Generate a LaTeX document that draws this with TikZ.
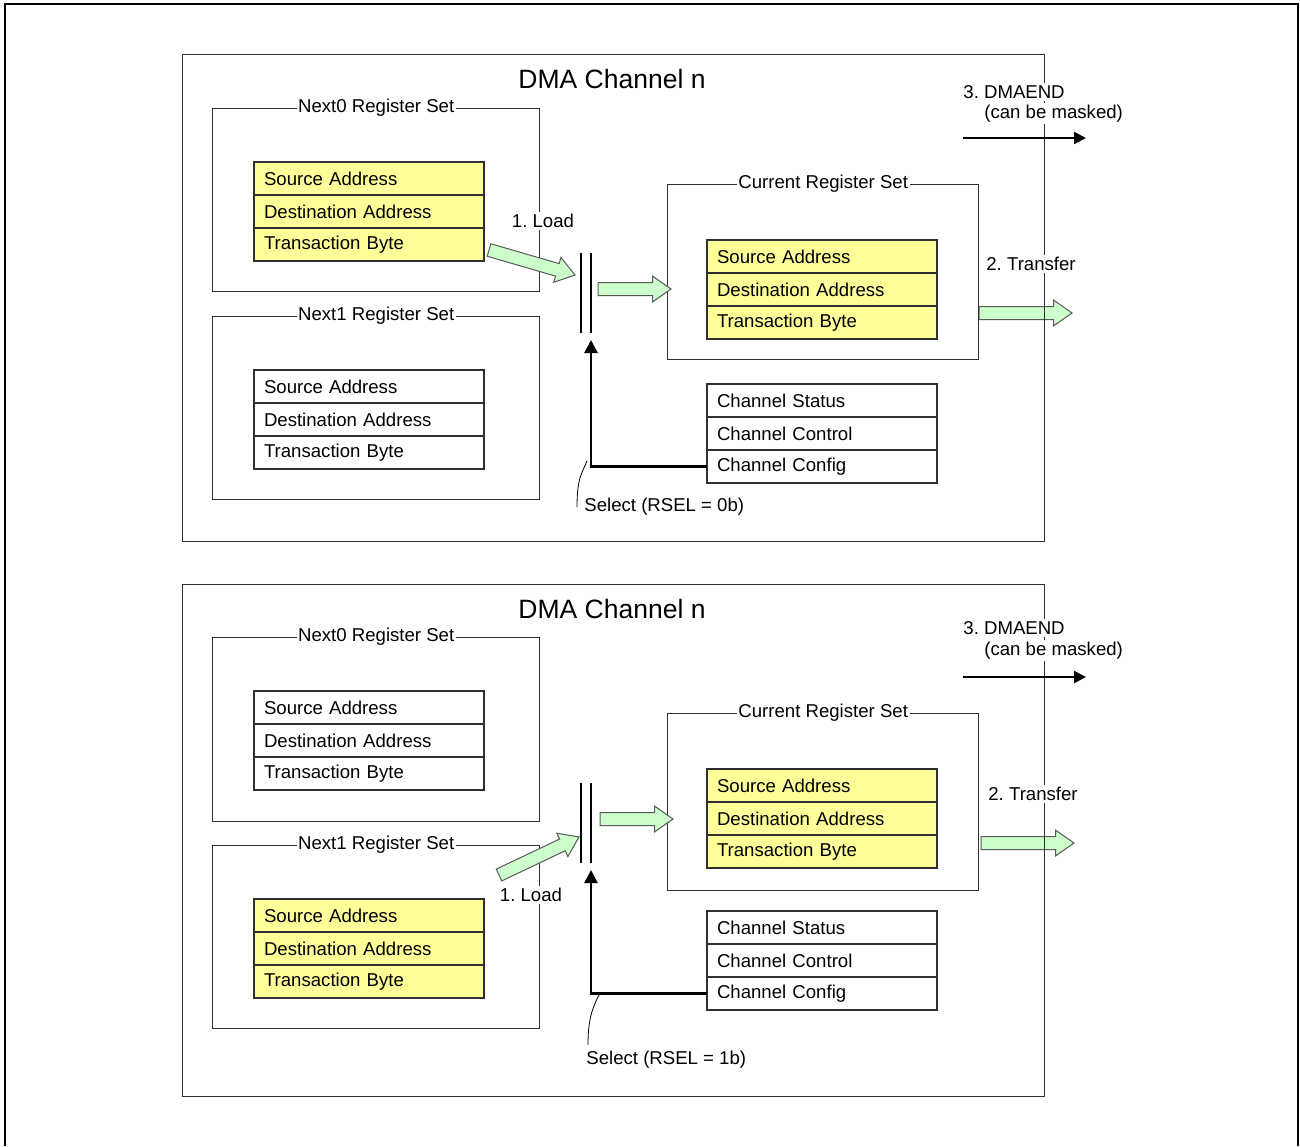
\documentclass[tikz,border=0pt]{standalone}
\usepackage{fontspec}
\setmainfont{Liberation Sans}
\usetikzlibrary{arrows.meta,positioning,calc,shapes.arrows,backgrounds}
\definecolor{regfill}{HTML}{FFFF99}
\definecolor{flowfill}{HTML}{CCFFCC}
\definecolor{edge}{HTML}{303030}
\frenchspacing

\begin{document}
\begin{tikzpicture}[x=0.5pt, y=-0.5pt,
  font=\fontsize{9.3}{11}\selectfont,
  chanbox/.style={draw=edge, line width=0.7pt, anchor=north west, inner sep=0pt, minimum width=431pt},
  setbox/.style={draw=edge, line width=0.7pt, anchor=north west, inner sep=0pt, label={[fill=white, inner sep=0.8pt, anchor=center]north:#1}},
  reg/.style={draw=edge, line width=0.6pt, anchor=north west, outer sep=0pt, minimum height=16.5pt, text width=105pt, inner xsep=5pt, inner ysep=0pt, align=left},
  hot/.style={reg, fill=regfill},
  flow/.style={single arrow, draw=black!65, fill=flowfill, line width=0.5pt, single arrow head extend=3.2pt, single arrow tip angle=70, inner xsep=0pt, inner ysep=3pt, outer sep=0pt, text height=0pt, text depth=0pt, minimum height=#1, pos=0, sloped, anchor=tail},
  lbl/.style={fill=white, inner sep=1pt},
  sel/.style={line width=1.3pt, -{Triangle[length=6.5pt, width=6.5pt]}},
  irq/.style={line width=1.1pt, -{Triangle[length=6pt, width=6pt]}},
  heading/.style={font=\fontsize{13.25}{15}\selectfont},
  lead/.style={line width=0.4pt}
]
  \useasboundingbox (0,0) rectangle (1300,1146);
  \draw[line width=1.2pt] (5,1146) -- (5,4) -- (1298,4) -- (1298,1146);

  % ---- RSEL = 0b ----
  \begin{scope}[on background layer]
    \path (979,313) -- (1072,313) node[flow=46.5pt] (a-xfer) {};
  \end{scope}
  \node[chanbox, minimum height=243.5pt] (a-dma) at (182,54) {};
  \node[heading] (a-title) at (612,79) {DMA Channel n};

  \node[setbox=Next0 Register Set, minimum width=163.5pt, minimum height=91.5pt] (a-next0) at (212,108) {};
  \node[hot] (a-n0src) at (254,162) {Source Address};
  \node[hot, below=0pt of a-n0src] (a-n0dst) {Destination Address};
  \node[hot, below=0pt of a-n0dst] (a-n0tb) {Transaction Byte};

  \node[setbox=Next1 Register Set, minimum width=163.5pt, minimum height=91.5pt] (a-next1) at (212,316) {};
  \node[reg] (a-n1src) at (254,370) {Source Address};
  \node[reg, below=0pt of a-n1src] (a-n1dst) {Destination Address};
  \node[reg, below=0pt of a-n1dst] (a-n1tb) {Transaction Byte};

  \node[setbox=Current Register Set, minimum width=155.5pt, minimum height=87.5pt] (a-cur) at (667,184) {};
  \node[hot] (a-csrc) at (707,240) {Source Address};
  \node[hot, below=0pt of a-csrc] (a-cdst) {Destination Address};
  \node[hot, below=0pt of a-cdst] (a-ctb) {Transaction Byte};

  \node[reg] (a-stat) at (707,384) {Channel Status};
  \node[reg, below=0pt of a-stat] (a-ctrl) {Channel Control};
  \node[reg, below=0pt of a-ctrl] (a-cfg) {Channel Config};

  \draw[line width=0.6pt] (581,253) -- (581,333) (591,253) -- (591,333);
  \coordinate (a-gate) at (591,340);
  \path (489,250) -- (575,275) node[flow=44.8pt] (a-load) {};
  \path (598,289) -- (671,289) node[flow=36.5pt] (a-fwd) {};
  \draw[sel] (a-cfg.west) -| (a-gate);
  \draw[irq] (963,138) -- (1086,138);

  \node[lbl] (a-ldlbl) at (543,221) {1. Load};
  \node[lbl] (a-xflbl) at (1031,264) {2. Transfer};
  \node[lbl, anchor=west] (a-end) at (961,92) {3. DMAEND};
  \node[lbl, anchor=west] (a-mask) at (982,113.5) {(can be masked)};
  \node[anchor=west, inner sep=0pt] (a-sel) at (584,507) {Select (RSEL = 0b)};
  \coordinate (a-selpt) at (587,461);
  \draw[lead] (a-selpt) .. controls (582,473) and (577,478) .. ([xshift=-3.5pt]a-sel.west);

  % ---- RSEL = 1b ----
  \begin{scope}[on background layer]
    \path (981,843) -- (1074,843) node[flow=46.5pt] (b-xfer) {};
  \end{scope}
  \node[chanbox, minimum height=256pt] (b-dma) at (182,584) {};
  \node[heading] (b-title) at (612,609) {DMA Channel n};

  \node[setbox=Next0 Register Set, minimum width=163.5pt, minimum height=92pt] (b-next0) at (212,637) {};
  \node[reg] (b-n0src) at (254,691) {Source Address};
  \node[reg, below=0pt of b-n0src] (b-n0dst) {Destination Address};
  \node[reg, below=0pt of b-n0dst] (b-n0tb) {Transaction Byte};

  \node[setbox=Next1 Register Set, minimum width=163.5pt, minimum height=91.5pt] (b-next1) at (212,845) {};
  \node[hot] (b-n1src) at (254,899) {Source Address};
  \node[hot, below=0pt of b-n1src] (b-n1dst) {Destination Address};
  \node[hot, below=0pt of b-n1dst] (b-n1tb) {Transaction Byte};

  \node[setbox=Current Register Set, minimum width=155.5pt, minimum height=88.5pt] (b-cur) at (667,713) {};
  \node[hot] (b-csrc) at (707,769) {Source Address};
  \node[hot, below=0pt of b-csrc] (b-cdst) {Destination Address};
  \node[hot, below=0pt of b-cdst] (b-ctb) {Transaction Byte};

  \node[reg] (b-stat) at (707,911) {Channel Status};
  \node[reg, below=0pt of b-stat] (b-ctrl) {Channel Control};
  \node[reg, below=0pt of b-ctrl] (b-cfg) {Channel Config};

  \draw[line width=0.6pt] (581,783) -- (581,863) (591,783) -- (591,863);
  \coordinate (b-gate) at (591,870);
  \path (499,875) -- (579,837) node[flow=44.3pt] (b-load) {};
  \path (600,819) -- (673,819) node[flow=36.5pt] (b-fwd) {};
  \draw[sel] (b-cfg.west) -| (b-gate);
  \draw[irq] (963,677) -- (1086,677);

  \node[lbl] (b-ldlbl) at (531,895) {1. Load};
  \node[lbl] (b-xflbl) at (1033,794) {2. Transfer};
  \node[lbl, anchor=west] (b-end) at (961,628) {3. DMAEND};
  \node[lbl, anchor=west] (b-mask) at (982,650.5) {(can be masked)};
  \node[anchor=west, inner sep=0pt] (b-sel) at (586,1060) {Select (RSEL = 1b)};
  \coordinate (b-selpt) at (600,993);
  \draw[lead] (b-selpt) .. controls (592,1008) and (588,1020) .. ([xshift=1pt, yshift=3pt]b-sel.north west);
\end{tikzpicture}
\end{document}
